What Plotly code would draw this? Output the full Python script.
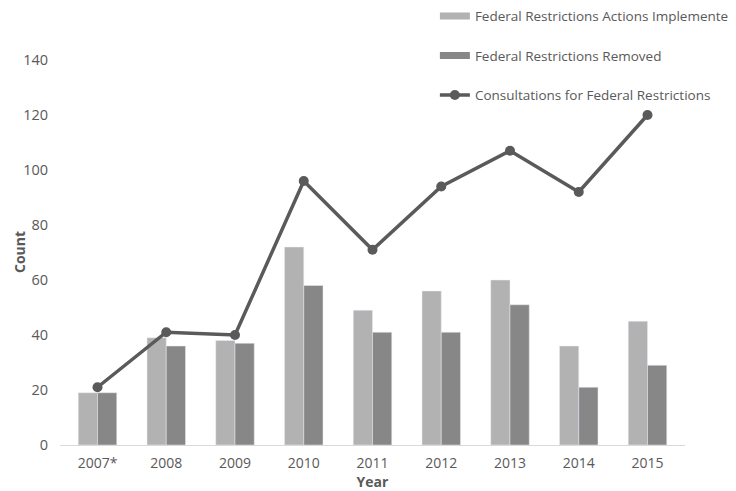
import plotly.graph_objects as go

years = ["2007*", "2008", "2009", "2010", "2011", "2012", "2013", "2014", "2015"]
implemented = [19, 39, 38, 72, 49, 56, 60, 36, 45]
removed = [19, 36, 37, 58, 41, 41, 51, 21, 29]
consultations = [21, 41, 40, 96, 71, 94, 107, 92, 120]

FONT = "Open Sans"
TXT = "#595959"
LIGHT = "#b2b2b2"
DARK = "#878787"
LINE = "#5a5a5a"

fig = go.Figure()
fig.add_trace(go.Bar(x=years, y=implemented, name="Federal Restrictions Actions Implemented",
                     marker_color=LIGHT, showlegend=False))
fig.add_trace(go.Bar(x=years, y=removed, name="Federal Restrictions Removed",
                     marker_color=DARK, showlegend=False))
fig.add_trace(go.Scatter(x=years, y=consultations, name="Consultations for Federal Restrictions",
                         mode="lines+markers", line=dict(color=LINE, width=3.5),
                         marker=dict(size=10, color=LINE), showlegend=False))
# legend entries (bar keys drawn as wide swatches like the original)
fig.add_trace(go.Scatter(x=[None], y=[None], mode="lines", name="Federal Restrictions Actions Implemented",
                         line=dict(color=LIGHT, width=7), legendgroup="a"))
fig.add_trace(go.Scatter(x=[None], y=[None], mode="lines", name="Federal Restrictions Removed",
                         line=dict(color=DARK, width=7), legendgroup="b"))
fig.add_trace(go.Scatter(x=[None], y=[None], mode="lines+markers", name="Consultations for Federal Restrictions",
                         line=dict(color=LINE, width=3.5), marker=dict(size=10, color=LINE), legendgroup="c"))

fig.update_layout(
    width=736, height=491,
    margin=dict(l=52, r=59, t=52, b=54, autoexpand=False),
    paper_bgcolor="white", plot_bgcolor="white",
    barmode="group", bargap=0.44, bargroupgap=0,
    font=dict(family=FONT, size=14, color=TXT),
    showlegend=True,
    legend=dict(x=0.580, y=0.903, xref="container", yref="container", xanchor="left", yanchor="middle",
                traceorder="grouped", tracegroupgap=19,
                font=dict(size=13.5, color=TXT), bgcolor="rgba(0,0,0,0)"),
    xaxis=dict(title=dict(text="<b>Year</b>", standoff=0, font=dict(size=14, color=TXT)),
               showline=True, linecolor="#d9d9d9", linewidth=1, ticks="",
               ticklabelstandoff=5, tickfont=dict(size=14, color=TXT)),
    yaxis=dict(range=[0, 140], dtick=20, showgrid=False, zeroline=False, ticks="",
               ticklabelstandoff=11, tickfont=dict(size=14.5, color=TXT)),
    annotations=[dict(text="<b>Count</b>", textangle=-90, xref="paper", yref="paper",
                      x=-52 / 625, y=0.5, xanchor="left", yanchor="middle", showarrow=False,
                      font=dict(size=14, color=TXT))],
)

fig.write_html("out.html")
